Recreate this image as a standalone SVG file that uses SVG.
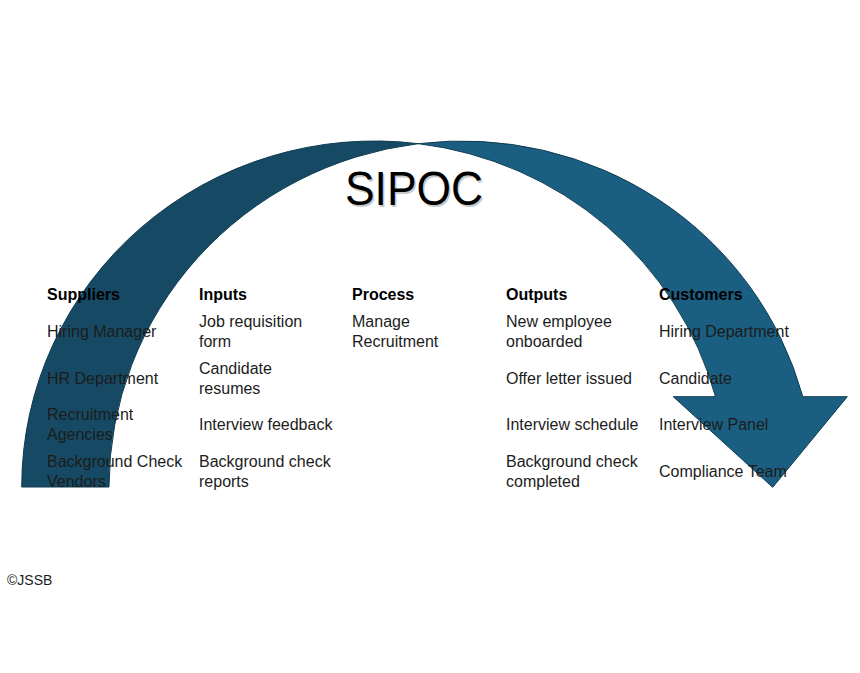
<svg xmlns="http://www.w3.org/2000/svg" width="860" height="673" viewBox="0 0 860 673">
  <style>
    .t { font-family: "Liberation Sans", Arial, sans-serif; font-size: 16px; fill: #1c1c1c; }
    .h { font-family: "Liberation Sans", Arial, sans-serif; font-size: 16px; font-weight: bold; fill: #000; }
    .title { font-family: "Liberation Sans", Arial, sans-serif; font-size: 48px; }
    .band { stroke: #0e3a50; stroke-width: 1; stroke-linejoin: round; }
  </style>
  <rect width="860" height="673" fill="#ffffff"/>
  <g id="arrow">
    <path class="band" fill="#164a64" d="M 21.7 487 A 353 346 0 0 1 418.35 143.66 A 353 346 0 0 0 109 487 Z"/>
    <path class="band" fill="#1a5f81" d="M 418.35 143.66 A 353 346 0 0 1 802.8 396.7 L 847.3 396.7 L 772.7 487.3 L 673.3 396.7 L 715.5 396.7 A 353 346 0 0 0 418.35 143.66 Z"/>
  </g>
  <g id="title">
    <text class="title" x="346.5" y="206.5" fill="#c8c8c8" textLength="138" lengthAdjust="spacingAndGlyphs">SIPOC</text>
    <text class="title" x="345" y="205" fill="#000" textLength="138" lengthAdjust="spacingAndGlyphs">SIPOC</text>
  </g>
  <g id="suppliers">
    <text class="h" x="47" y="300">Suppliers</text>
    <text class="t" x="47" y="337">Hiring Manager</text>
    <text class="t" x="47" y="384">HR Department</text>
    <text class="t" x="47" y="420">Recruitment</text>
    <text class="t" x="47" y="440">Agencies</text>
    <text class="t" x="47" y="467">Background Check</text>
    <text class="t" x="47" y="487">Vendors</text>
  </g>
  <g id="inputs">
    <text class="h" x="199" y="300">Inputs</text>
    <text class="t" x="199" y="327">Job requisition</text>
    <text class="t" x="199" y="347">form</text>
    <text class="t" x="199" y="374">Candidate</text>
    <text class="t" x="199" y="394">resumes</text>
    <text class="t" x="199" y="430">Interview feedback</text>
    <text class="t" x="199" y="467">Background check</text>
    <text class="t" x="199" y="487">reports</text>
  </g>
  <g id="process">
    <text class="h" x="352" y="300">Process</text>
    <text class="t" x="352" y="327">Manage</text>
    <text class="t" x="352" y="347">Recruitment</text>
  </g>
  <g id="outputs">
    <text class="h" x="506" y="300">Outputs</text>
    <text class="t" x="506" y="327">New employee</text>
    <text class="t" x="506" y="347">onboarded</text>
    <text class="t" x="506" y="384">Offer letter issued</text>
    <text class="t" x="506" y="430">Interview schedule</text>
    <text class="t" x="506" y="467">Background check</text>
    <text class="t" x="506" y="487">completed</text>
  </g>
  <g id="customers">
    <text class="h" x="659" y="300">Customers</text>
    <text class="t" x="659" y="337">Hiring Department</text>
    <text class="t" x="659" y="384">Candidate</text>
    <text class="t" x="659" y="430">Interview Panel</text>
    <text class="t" x="659" y="477">Compliance Team</text>
  </g>
  <g id="connectors"></g>
  <text class="t" x="7" y="585" style="font-size:14px">©JSSB</text>
</svg>
